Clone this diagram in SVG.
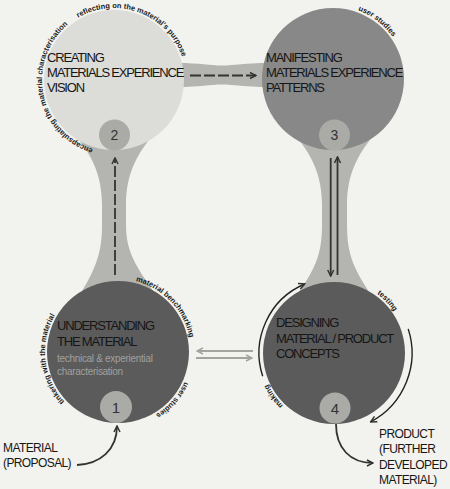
<svg xmlns="http://www.w3.org/2000/svg" width="450" height="489" viewBox="0 0 450 489">
<defs>
<style>
.bridge{fill:#b4b4b1}
.title{font-family:"Liberation Sans",Arial,sans-serif;font-size:13px;letter-spacing:-1.2px;fill:#161616}
.lbl{font-family:"Liberation Sans",Arial,sans-serif;font-size:12px;letter-spacing:-0.6px;fill:#161616}
.sub{font-family:"Liberation Sans",Arial,sans-serif;font-size:10px;letter-spacing:-0.3px;fill:#a0a09e}
.arc{font-family:"Liberation Sans",Arial,sans-serif;font-size:7.5px;font-weight:bold;fill:#1a1a1a}
.num{font-family:"Liberation Sans",Arial,sans-serif;font-size:14px;fill:#333;text-anchor:middle}
.small{fill:#aaaaa7}
.ln{fill:none;stroke:#333;stroke-width:1.8}
.dash{stroke-dasharray:11 3}
.gl{fill:none;stroke:#a3a3a0;stroke-width:2}
.thin{fill:none;stroke:#222;stroke-width:1.4}
</style>
<marker id="ah" viewBox="0 0 8 8" refX="7" refY="4" markerWidth="8" markerHeight="8" markerUnits="userSpaceOnUse" orient="auto">
<path d="M1,1 L7,4 L1,7" fill="none" stroke="#333" stroke-width="1.5"/>
</marker>
<marker id="ahg" viewBox="0 0 8 8" refX="7" refY="4" markerWidth="8" markerHeight="8" markerUnits="userSpaceOnUse" orient="auto">
<path d="M1,1 L7,4 L1,7" fill="none" stroke="#a3a3a0" stroke-width="1.5"/>
</marker>
<path id="p2a" d="M78,17.65 A72 72 0 0 1 184.9,67.5"/>
<path id="p2b" d="M92.95,148.85 A72 72 0 0 1 72.7,21"/>
<path id="p3a" d="M358,10.4 A73 73 0 0 1 401.6,54"/>
<path id="p1a" d="M135.7,281.2 A73 73 0 0 1 189.9,364.7"/>
<path id="p1b" d="M184.7,381.7 A73 73 0 0 1 143,420.6"/>
<path id="p1c" d="M64.6,401.8 A73 73 0 0 1 62.1,305.1"/>
<path id="p4a" d="M376.9,293.9 A73 73 0 0 1 402.6,328"/>
<path id="p4b" d="M283.3,405.5 A73 73 0 0 1 262.1,365.7"/>
</defs>
<rect width="450" height="489" fill="#f2f2ee"/>
<g id="bridges">
<path class="bridge" d="M76,136 C92,156 102,175 102,205 L102,225 C102,255 95,270 78,298 L158,298 C139,270 126,255 126,225 L126,205 C126,175 136,156 152,136 Z"/>
<path class="bridge" d="M296,136 C312,156 322,175 322,205 L322,225 C322,255 315,270 294,299 L374,299 C354,270 347,255 347,225 L347,205 C347,175 357,156 373,136 Z"/>
<path class="bridge" d="M178,63 C200,63 210,65.5 222,65.5 C234,65.5 245,63 268,63 L268,87 C245,87 234,84.5 222,84.5 C210,84.5 200,87 178,87 Z"/>
</g>
<g id="node2">
<circle cx="114" cy="80" r="70" fill="#dcdcd9"/>
<circle class="small" cx="114.5" cy="135" r="15.5"/>
<text class="num" x="114.5" y="140">2</text>
<text class="title" x="47" y="62">CREATING</text>
<text class="title" x="47" y="77">MATERIALS EXPERIENCE</text>
<text class="title" x="47" y="92">VISION</text>
<text class="arc"><textPath href="#p2a">reflecting on the material's purpose</textPath></text>
<text class="arc"><textPath href="#p2b">encapsulating the material characterisation</textPath></text>
</g>
<g id="node3">
<circle cx="333" cy="79" r="71" fill="#888888"/>
<circle class="small" cx="334.5" cy="135" r="15.5"/>
<text class="num" x="334.5" y="140">3</text>
<text class="title" x="266" y="62">MANIFESTING</text>
<text class="title" x="266" y="77">MATERIALS EXPERIENCE</text>
<text class="title" x="266" y="92">PATTERNS</text>
<text class="arc"><textPath href="#p3a">user studies</textPath></text>
</g>
<g id="node1">
<circle cx="118" cy="352" r="71" fill="#5b5b5b"/>
<circle class="small" cx="116" cy="407" r="16"/>
<text class="num" x="116" y="412.5" style="font-size:15px">1</text>
<text class="title" x="57" y="330">UNDERSTANDING</text>
<text class="title" x="57" y="346">THE MATERIAL</text>
<text class="sub" x="57" y="362">technical &amp; experiential</text>
<text class="sub" x="57" y="375">characterisation</text>
<text class="arc"><textPath href="#p1a">material benchmarking</textPath></text>
<text class="arc"><textPath href="#p1b">user studies</textPath></text>
<text class="arc"><textPath href="#p1c">tinkering with the material</textPath></text>
</g>
<g id="node4">
<circle cx="334" cy="353" r="71" fill="#5b5b5b"/>
<circle class="small" cx="335" cy="408" r="15.5"/>
<text class="num" x="335" y="413.5" style="font-size:15px">4</text>
<text class="title" x="276" y="327">DESIGNING</text>
<text class="title" x="276" y="342.5">MATERIAL / PRODUCT</text>
<text class="title" x="276" y="357.5">CONCEPTS</text>
<text class="arc"><textPath href="#p4a">testing</textPath></text>
<text class="arc"><textPath href="#p4b">making</textPath></text>
</g>
<g id="input">
<text class="lbl" x="3" y="452">MATERIAL</text>
<text class="lbl" x="3" y="467">(PROPOSAL)</text>
</g>
<g id="output">
<text class="lbl" x="379" y="438">PRODUCT</text>
<text class="lbl" x="379" y="453">(FURTHER</text>
<text class="lbl" x="379" y="469">DEVELOPED</text>
<text class="lbl" x="379" y="484">MATERIAL)</text>
</g>
<g id="connectors">
<path class="ln dash" d="M115,275 L115,158" marker-end="url(#ah)"/>
<path class="ln dash" d="M190,75.5 L256,75.5" marker-end="url(#ah)"/>
<path class="ln" d="M330.7,158 L330.7,276" marker-end="url(#ah)"/>
<path class="ln" d="M337.5,275 L337.5,157" marker-end="url(#ah)"/>
<path class="gl" d="M253,351 L197,351" marker-end="url(#ahg)"/>
<path class="gl" d="M196,358 L252,358" marker-end="url(#ahg)"/>
<path class="ln" d="M77,465 C100,464 117,450 117,426" marker-end="url(#ah)"/>
<path class="ln" d="M336,424 C336,448 350,463 373,463" marker-end="url(#ah)"/>
<path class="thin" d="M262.7,376.2 A75 75 0 0 1 304.7,284" marker-end="url(#ah)"/>
<path class="thin" d="M408.2,328.9 A78 78 0 0 1 370.6,421.9" marker-end="url(#ah)"/>
</g>
</svg>
